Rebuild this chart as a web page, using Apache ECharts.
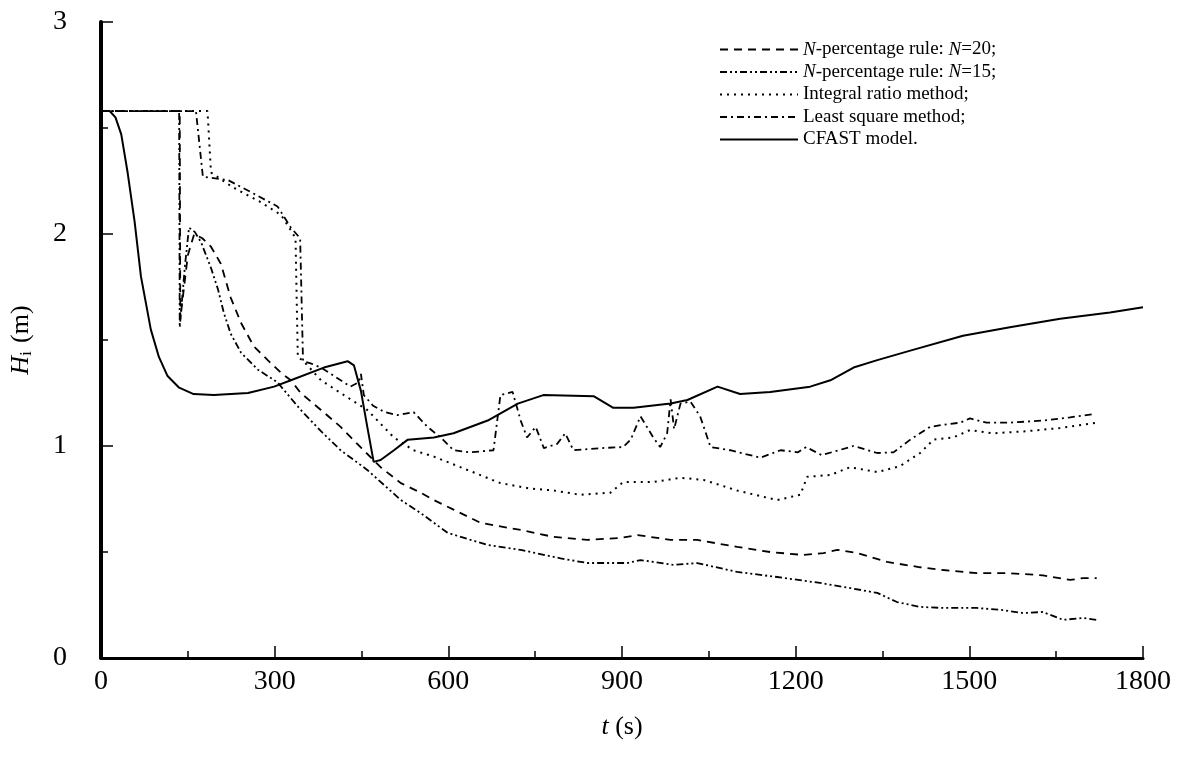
<!DOCTYPE html>
<html>
<head>
<meta charset="utf-8">
<script src="https://cdn.jsdelivr.net/npm/echarts@6/dist/echarts.min.js"></script>
<style>html,body{margin:0;padding:0;background:#fff}#c{width:1186px;height:760px}</style>
</head>
<body>
<div id="c"></div>
<script>
// ---- data: [t (s), H_i (m)] ----
const seriesNames = [
  'N-percentage rule: N=20;',
  'N-percentage rule: N=15;',
  'Integral ratio method;',
  'Least square method;',
  'CFAST model.'
];
const xTicks = [0, 300, 600, 900, 1200, 1500, 1800];
const yTicks = [0, 1, 2, 3];

const n20 = [[0,2.58],[136,2.58],[137,1.6],[150,1.9],[161,2.0],[175,1.98],[190,1.94],[207,1.86],[224,1.70],[242,1.58],[264,1.47],[288,1.405],[311,1.345],[328,1.31],[345,1.25],[380,1.17],[414,1.09],[450,0.99],[483,0.90],[518,0.825],[552,0.78],[575,0.745],[609,0.70],[656,0.637],[725,0.604],[782,0.571],[840,0.557],[897,0.566],[927,0.58],[984,0.557],[1030,0.557],[1099,0.524],[1156,0.50],[1213,0.486],[1248,0.495],[1272,0.51],[1306,0.495],[1358,0.453],[1415,0.428],[1455,0.415],[1513,0.40],[1570,0.40],[1627,0.39],[1674,0.368],[1697,0.377],[1720,0.377]];

const n15 = [[0,2.58],[135,2.58],[136,1.56],[145,1.85],[152,2.03],[162,2.01],[173,1.96],[190,1.84],[202,1.74],[212,1.63],[224,1.53],[242,1.44],[271,1.36],[305,1.30],[345,1.17],[380,1.07],[414,0.98],[460,0.887],[518,0.745],[552,0.684],[599,0.59],[668,0.533],[725,0.51],[794,0.47],[840,0.448],[909,0.448],[932,0.462],[989,0.439],[1030,0.448],[1099,0.406],[1168,0.382],[1242,0.354],[1294,0.33],[1341,0.307],[1375,0.264],[1415,0.241],[1455,0.236],[1513,0.236],[1558,0.226],[1593,0.212],[1627,0.217],[1662,0.18],[1697,0.189],[1720,0.18]];

const integral = [[0,2.58],[184,2.58],[190,2.29],[228,2.22],[276,2.15],[311,2.09],[325,2.03],[336,1.98],[340,1.42],[350,1.40],[380,1.31],[414,1.25],[460,1.17],[506,1.04],[540,0.98],[575,0.95],[633,0.887],[690,0.825],[740,0.80],[782,0.79],[828,0.77],[880,0.78],[902,0.83],[954,0.83],[1001,0.85],[1041,0.84],[1099,0.79],[1168,0.745],[1208,0.77],[1220,0.855],[1260,0.863],[1294,0.90],[1341,0.877],[1380,0.905],[1415,0.967],[1438,1.03],[1472,1.04],[1501,1.075],[1541,1.06],[1600,1.07],[1657,1.085],[1720,1.11]];

const leastSquare = [[0,2.58],[164,2.58],[176,2.27],[219,2.255],[264,2.19],[305,2.13],[328,2.03],[344,1.98],[349,1.40],[362,1.39],[380,1.37],[431,1.28],[445,1.30],[449,1.34],[454,1.24],[470,1.19],[490,1.16],[512,1.146],[540,1.16],[564,1.09],[587,1.04],[609,0.98],[638,0.97],[678,0.98],[690,1.24],[711,1.255],[725,1.12],[736,1.04],[751,1.09],[765,0.99],[788,1.01],[802,1.06],[816,0.98],[863,0.99],[902,0.995],[915,1.03],[932,1.14],[954,1.04],[966,0.995],[978,1.06],[984,1.22],[990,1.08],[1001,1.2],[1018,1.21],[1035,1.14],[1053,0.995],[1087,0.98],[1139,0.945],[1174,0.98],[1204,0.97],[1218,0.995],[1245,0.957],[1300,1.0],[1341,0.967],[1369,0.97],[1398,1.03],[1432,1.09],[1455,1.10],[1484,1.11],[1501,1.13],[1530,1.11],[1570,1.11],[1627,1.12],[1674,1.135],[1714,1.15]];

const cfast = [[0,2.58],[15,2.58],[25,2.55],[35,2.47],[46,2.29],[58,2.06],[69,1.80],[86,1.55],[100,1.42],[115,1.33],[135,1.275],[160,1.245],[195,1.24],[254,1.25],[299,1.28],[328,1.31],[385,1.37],[426,1.40],[437,1.38],[449,1.26],[460,1.09],[471,0.925],[483,0.934],[506,0.98],[530,1.03],[575,1.04],[609,1.06],[668,1.12],[720,1.20],[764,1.24],[851,1.235],[885,1.18],[920,1.18],[984,1.20],[1013,1.217],[1065,1.28],[1104,1.245],[1156,1.255],[1225,1.28],[1260,1.31],[1300,1.37],[1341,1.405],[1398,1.45],[1489,1.52],[1570,1.56],[1657,1.60],[1743,1.63],[1800,1.655]];

const FONT = '"Liberation Serif", "DejaVu Serif", serif';
const chart = echarts.init(document.getElementById('c'), null, {renderer: 'canvas'});

function mk(name, data, type, width) {
  return {
    name: name, type: 'line', data: data, symbol: 'none', smooth: false,
    lineStyle: {color: '#000', width: width || 1.8, type: type},
    itemStyle: {color: '#000'}, animation: false
  };
}

chart.setOption({
  backgroundColor: '#fff',
  animation: false,
  grid: {left: 100, right: 43, top: 22, bottom: 102, containLabel: false},
  legend: {
    orient: 'vertical', left: 714, top: 35,
    itemWidth: 78, itemHeight: 10, itemGap: 3.5,
    data: seriesNames,
    itemStyle: {opacity: 0},
    formatter: function (n) {
      return n.replace(/N/g, '{i|N}');
    },
    textStyle: {
      fontFamily: FONT, fontSize: 19, color: '#000', lineHeight: 19,
      rich: {i: {fontFamily: FONT, fontSize: 19, fontStyle: 'italic', color: '#000'}}
    }
  },
  xAxis: {
    type: 'value', min: 0, max: 1800, interval: 300,
    name: '{i|t} (s)', nameLocation: 'middle', nameGap: 56,
    nameTextStyle: {fontFamily: FONT, fontSize: 26, color: '#000',
      rich: {i: {fontFamily: FONT, fontSize: 26, fontStyle: 'italic', color: '#000'}}},
    axisLine: {show: true, onZero: false, lineStyle: {color: '#000', width: 3}},
    axisTick: {show: true, inside: true, length: 12, lineStyle: {color: '#000', width: 1.5}},
    minorTick: {show: true, splitNumber: 2, length: 7, lineStyle: {color: '#000', width: 1.5}},
    axisLabel: {fontFamily: FONT, fontSize: 28, color: '#000', margin: 10,
      formatter: function (v) { return xTicks.indexOf(v) >= 0 ? String(v) : ''; }},
    splitLine: {show: false}
  },
  yAxis: {
    type: 'value', min: 0, max: 3, interval: 1,
    name: '{i|H}{s|i} (m)', nameLocation: 'middle', nameGap: 66, nameRotate: 90,
    nameTextStyle: {fontFamily: FONT, fontSize: 26, color: '#000',
      rich: {
        i: {fontFamily: FONT, fontSize: 26, fontStyle: 'italic', color: '#000'},
        s: {fontFamily: FONT, fontSize: 16, color: '#000', padding: [12, 2, 0, 0]}
      }},
    axisLine: {show: true, onZero: false, lineStyle: {color: '#000', width: 4}},
    axisTick: {show: true, inside: true, length: 12, lineStyle: {color: '#000', width: 1.5}},
    minorTick: {show: true, splitNumber: 2, length: 7, lineStyle: {color: '#000', width: 1.5}},
    axisLabel: {fontFamily: FONT, fontSize: 28, color: '#000', margin: 34,
      formatter: function (v) { return yTicks.indexOf(v) >= 0 ? String(v) : ''; }},
    splitLine: {show: false}
  },
  series: [
    mk(seriesNames[0], n20, [8, 6], 1.8),
    mk(seriesNames[1], n15, [7, 3, 2, 3, 2, 3], 1.8),
    mk(seriesNames[2], integral, [2, 5], 2),
    mk(seriesNames[3], leastSquare, [7, 4, 2, 4], 1.8),
    mk(seriesNames[4], cfast, 'solid', 2)
  ]
});
</script>
</body>
</html>
